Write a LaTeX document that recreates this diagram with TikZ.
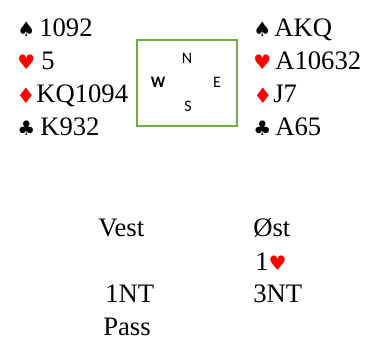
\documentclass[tikz,border=0pt]{standalone}
\usepackage{fontspec}
\setmainfont{Liberation Serif}
\newfontfamily\suitfont{DejaVu Sans}
\newfontfamily\compassfont{Carlito}
\definecolor{suitred}{RGB}{255,0,0}
\definecolor{boxgreen}{RGB}{112,173,71}
\begin{document}
\begin{tikzpicture}[x=0.75pt,y=-0.75pt,
  card/.style={inner sep=0pt,anchor=base west,font=\fontsize{20}{20}\selectfont},
  suit/.style={inner sep=0pt,anchor=base west,font=\suitfont\fontsize{15}{15}\selectfont},
  redsuit/.style={suit,text=suitred},
  bigsuit/.style={redsuit,font=\suitfont\fontsize{16}{16}\selectfont},
  compass/.style={inner sep=0pt,anchor=center,font=\compassfont\fontsize{12}{12}\selectfont},
  bid/.style={inner sep=0pt,anchor=base west,font=\fontsize{20}{20}\selectfont}]
\useasboundingbox (0,0) rectangle (384,359);
% West hand
\node[suit] (ws) at (17,37) {♠};
\node[card] (wst) at (39,37) {1092};
\node[redsuit] (wh) at (17,70) {♥};
\node[card] (wht) at (41,70) {5};
\node[bigsuit] (wd) at (16,104) {♦};
\node[card] (wdt) at (36,103) {KQ1094};
\node[suit] (wc) at (17,136) {♣};
\node[card] (wct) at (40,136) {K932};
% East hand
\node[suit] (es) at (253,37) {♠};
\node[card] (est) at (274,37) {AKQ};
\node[redsuit] (eh) at (253,70) {♥};
\node[card] (eht) at (275,70) {A10632};
\node[bigsuit] (ed) at (253,104) {♦};
\node[card] (edt) at (273,103) {J7};
\node[suit] (ec) at (253,136) {♣};
\node[card] (ect) at (275,136) {A65};
% Compass box
\draw[boxgreen,line width=1.5pt] (137,40) rectangle (237,126);
\node[compass] (n) at (187,58) {N};
\node[compass,font=\compassfont\bfseries\fontsize{12}{12}\selectfont] (w) at (158,82) {W};
\node[compass] (e) at (217,82) {E};
\node[compass] (s) at (188,106) {S};
% Bidding
\node[bid] (vest) at (98,236) {Vest};
\node[bid] (ost) at (253,236) {Øst};
\node[bid] (b1) at (255,270) {1\textcolor{suitred}{\suitfont\fontsize{15}{15}\selectfont ♥}};
\node[bid] (b2) at (105,302) {1NT};
\node[bid] (b3) at (253,302) {3NT};
\node[bid] (b4) at (103,335) {Pass};
\end{tikzpicture}
\end{document}
